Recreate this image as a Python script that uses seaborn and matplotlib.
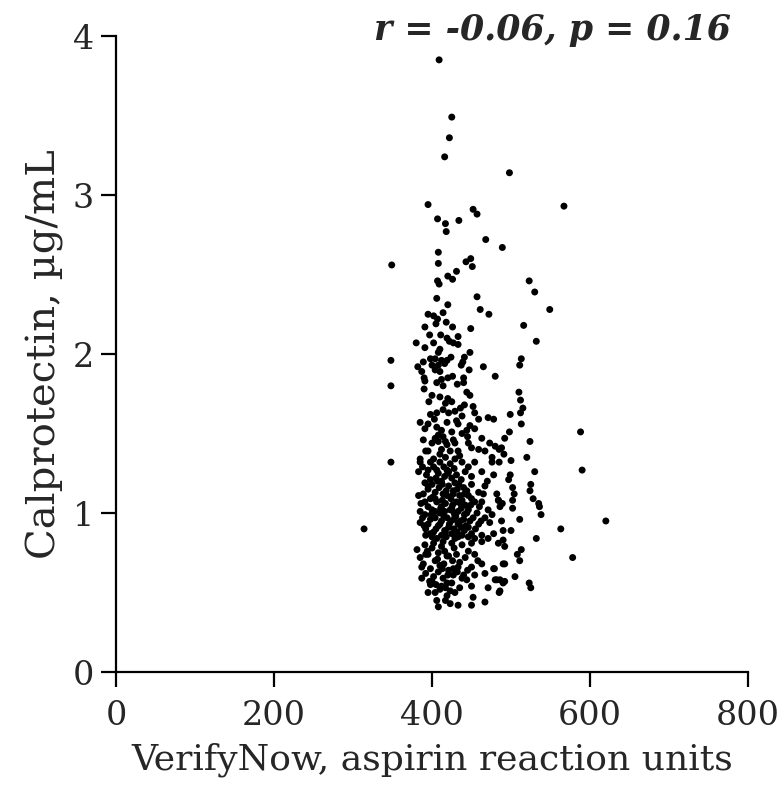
import numpy as np
import pandas as pd
import matplotlib
matplotlib.use("Agg")
import matplotlib.pyplot as plt
import seaborn as sns

# VerifyNow ARU (x) vs calprotectin ug/mL (y)
# upper tail (above ~2.3)
x_upper = [409, 425, 422, 416, 498, 395, 567, 407, 417, 452, 457, 434, 418, 468, 489,
           408, 349, 408, 443, 449, 451, 431, 420, 426, 407, 409, 523, 530, 549, 457, 406,
           516, 532, 513, 511]
y_upper = [3.85, 3.49, 3.36, 3.24, 3.14, 2.94, 2.93, 2.85, 2.82, 2.91, 2.88, 2.84, 2.77, 2.72, 2.67,
           2.64, 2.56, 2.57, 2.58, 2.60, 2.55, 2.52, 2.49, 2.47, 2.46, 2.44, 2.46, 2.39, 2.28, 2.36, 2.35,
           2.18, 2.08, 1.97, 1.93]

# band 2.3 - 1.84
x_band1 = [420, 461, 472, 395, 402, 414, 407, 405, 418, 391, 426, 449, 397, 411, 433, 419, 422,
           380, 402, 427, 433, 391, 410, 408, 448, 441, 348, 398, 404, 412, 419, 424, 389, 416,
           439, 382, 400, 408, 437, 447, 465, 387, 404, 410, 480, 390, 420, 426, 440, 412]
y_band1 = [2.31, 2.28, 2.25, 2.25, 2.24, 2.26, 2.22, 2.19, 2.20, 2.17, 2.17, 2.16, 2.12, 2.12, 2.11,
           2.10, 2.08, 2.07, 2.07, 2.07, 2.06, 2.04, 2.03, 2.01, 2.01, 1.98, 1.96, 1.97, 1.97, 1.96,
           1.96, 1.98, 1.95, 1.94, 1.95, 1.92, 1.93, 1.93, 1.93, 1.90, 1.92, 1.89, 1.90, 1.89, 1.86,
           1.85, 1.85, 1.86, 1.85, 1.84]

# band 1.84 - 1.33
x_band2 = [348, 391, 406, 414, 432, 440, 390, 400, 410, 444, 448, 417, 425, 441, 452, 414, 421,
           429, 438, 454, 398, 406, 385, 395, 419, 433, 459, 471, 478, 448, 391, 406, 412, 425,
           438, 408, 414, 404, 444, 454, 463, 389, 408, 400, 419, 429, 446, 450, 473, 467, 480,
           488, 395, 412, 423, 433, 459, 385, 402, 417, 429, 476,
           396, 420, 436, 403, 431, 417, 445, 392, 427, 410, 435]
y_band2 = [1.80, 1.83, 1.82, 1.80, 1.81, 1.82, 1.78, 1.74, 1.73, 1.76, 1.74, 1.69, 1.70, 1.68,
           1.67, 1.65, 1.63, 1.64, 1.61, 1.63, 1.62, 1.63, 1.57, 1.56, 1.57, 1.56, 1.59, 1.60, 1.59,
           1.55, 1.53, 1.54, 1.52, 1.51, 1.50, 1.49, 1.48, 1.47, 1.52, 1.53, 1.47, 1.46, 1.45, 1.44,
           1.43, 1.44, 1.44, 1.41, 1.44, 1.39, 1.42, 1.41, 1.39, 1.40, 1.39, 1.39, 1.40, 1.34, 1.34,
           1.35, 1.34, 1.35,
           1.70, 1.72, 1.66, 1.59, 1.58, 1.45, 1.48, 1.39, 1.46, 1.37, 1.36]

# dense core 1.33 - 0.83
x_core = [348, 385, 398, 410, 423, 438, 454, 476, 383, 395, 408, 419, 431, 442, 450, 463, 478,
          391, 400, 412, 421, 429, 440, 450, 459, 404, 414, 427, 435, 446, 467, 383, 398, 391,
          406, 417, 431, 442, 454, 463, 484, 400, 410, 423, 433, 446, 457, 471, 486, 391, 404,
          419, 429, 440, 452, 467, 476, 385, 395, 410, 421, 433, 446, 459, 473, 488, 398, 412,
          425, 438, 450, 463, 478, 406, 429, 454, 471,
          388, 402, 415, 428, 446, 405, 416, 425, 437, 395, 409, 418, 432, 444, 389, 401, 424,
          438, 450, 395, 412, 426, 437, 449, 404, 416, 428, 441, 388, 398, 412, 424, 436, 448,
          392, 405, 416, 428, 441, 455, 400, 418, 433, 446, 392, 462, 465, 470, 460, 385,
          393, 407, 420, 434, 413, 398, 427, 441, 404, 419, 386, 436, 411, 425, 399, 415, 430,
          444, 390, 408, 422, 437, 402, 417, 432, 395, 413, 428, 443, 406, 421]
y_core = [1.32, 1.32, 1.32, 1.32, 1.31, 1.32, 1.32, 1.32, 1.26, 1.27, 1.25, 1.27, 1.24, 1.26,
          1.23, 1.26, 1.24, 1.19, 1.18, 1.20, 1.17, 1.19, 1.16, 1.18, 1.13, 1.13, 1.12, 1.12, 1.11,
          1.11, 1.17, 1.11, 1.09, 1.07, 1.07, 1.06, 1.07, 1.05, 1.07, 1.07, 1.08, 1.02, 1.00, 1.02,
          1.01, 1.02, 1.00, 1.02, 1.04, 0.99, 0.97, 0.97, 0.98, 0.96, 0.97, 0.97, 0.99, 0.94, 0.93,
          0.93, 0.91, 0.93, 0.91, 0.93, 0.94, 0.95, 0.87, 0.86, 0.87, 0.86, 0.87, 0.86, 0.87, 0.84,
          0.84, 0.84, 0.84,
          1.29, 1.29, 1.29, 1.28, 1.29, 1.22, 1.23, 1.22, 1.21, 1.15, 1.16, 1.14, 1.15, 1.14, 1.12,
          1.10, 1.09, 1.08, 1.09, 1.04, 1.04, 1.05, 1.03, 1.05, 1.01, 1.01, 1.00, 0.99, 0.97, 0.96,
          0.95, 0.95, 0.95, 0.95, 0.90, 0.90, 0.89, 0.90, 0.89, 0.90, 0.85, 0.85, 0.85, 0.85, 0.86,
          0.95, 1.12, 1.20, 1.04, 1.01,
          1.24, 1.20, 1.25, 1.18, 1.18, 1.21, 1.14, 1.12, 1.09, 1.11, 1.06, 1.06, 1.03, 1.03, 0.99,
          0.98, 0.98, 1.00, 0.92, 0.92, 0.93, 0.91, 0.88, 0.88, 0.88, 1.17, 1.08, 0.96, 0.92, 1.27,
          1.26]

# lower band 0.83 - 0.40
x_low = [381, 391, 402, 412, 425, 438, 450, 463, 395, 408, 419, 431, 446, 454, 490, 387, 398,
         410, 421, 433, 450, 463, 478, 387, 402, 414, 427, 438, 454, 467, 482, 490, 398, 412,
         425, 435, 450, 471, 404, 419, 429, 395, 486, 406, 417, 423, 433, 450, 467, 452, 408,
         385, 400, 416, 428, 442, 404, 415, 426, 392, 408, 420, 432, 445, 397, 419, 444, 410,
         389, 458, 423,
         394, 407, 421, 435, 413, 400, 427, 440, 405, 417, 392, 414]
y_low = [0.77, 0.80, 0.81, 0.79, 0.81, 0.80, 0.81, 0.82, 0.74, 0.75, 0.73, 0.74, 0.76, 0.74,
         0.68, 0.66, 0.65, 0.67, 0.64, 0.66, 0.66, 0.68, 0.65, 0.59, 0.60, 0.59, 0.61, 0.59, 0.61,
         0.62, 0.58, 0.56, 0.55, 0.54, 0.56, 0.53, 0.54, 0.53, 0.50, 0.48, 0.50, 0.50, 0.51, 0.45,
         0.45, 0.43, 0.42, 0.42, 0.44, 0.47, 0.41,
         0.72, 0.78, 0.76, 0.78, 0.72, 0.70, 0.68, 0.70, 0.62, 0.63, 0.61, 0.63, 0.64, 0.57, 0.56,
         0.58, 0.52, 0.68, 0.70, 0.51,
         0.76, 0.71, 0.73, 0.69, 0.65, 0.57, 0.65, 0.61, 0.55, 0.53, 0.74, 0.82]

# right-hand scatter and far outliers
x_right = [510, 512, 515, 512, 513, 499, 498, 492, 524, 588, 485, 491, 485, 500, 520, 530, 590,
           499, 497, 525, 524, 502, 504, 482, 484, 489, 502, 528, 535, 536, 538, 502, 511, 490,
           500, 620, 563, 532, 484, 490, 492, 513, 508, 511, 578, 492, 479, 505, 480, 486, 492,
           523, 525, 485, 314]
y_right = [1.76, 1.71, 1.66, 1.63, 1.56, 1.62, 1.51, 1.47, 1.45, 1.51, 1.40, 1.37, 1.32, 1.33,
           1.35, 1.26, 1.27, 1.24, 1.21, 1.18, 1.14, 1.16, 1.12, 1.12, 1.08, 1.06, 1.08, 1.09, 1.06,
           1.04, 0.99, 1.03, 0.96, 0.89, 0.89, 0.95, 0.90, 0.84, 0.81, 0.83, 0.79, 0.77, 0.74, 0.70,
           0.72, 0.68, 0.65, 0.60, 0.58, 0.58, 0.57, 0.56, 0.53, 0.50, 0.90]

df = pd.DataFrame({
    "aru": x_upper + x_band1 + x_band2 + x_core + x_low + x_right,
    "calpro": y_upper + y_band1 + y_band2 + y_core + y_low + y_right,
})

sns.set_style("ticks")
plt.rcParams["font.family"] = ["DejaVu Serif"]

fig = plt.figure(figsize=(7.81, 7.95), dpi=100)
ax = fig.add_axes([0.1485, 0.1547, 0.8093, 0.8000])

sns.scatterplot(data=df, x="aru", y="calpro", ax=ax, color="black", s=25,
                linewidth=0, edgecolor="none", clip_on=False)

ax.set_xlim(0, 800)
ax.set_ylim(0, 4)
ax.set_xticks([0, 200, 400, 600, 800])
ax.set_yticks([0, 1, 2, 3, 4])
sns.despine(ax=ax)
for side in ["left", "bottom"]:
    ax.spines[side].set_linewidth(1.6)
    ax.spines[side].set_color("black")
ax.tick_params(axis="both", direction="out", length=11, width=1.6, color="black",
               labelsize=24)
ax.tick_params(axis="x", pad=9)
ax.tick_params(axis="y", pad=5)

ax.set_xlabel("VerifyNow, aspirin reaction units", fontsize=26, labelpad=8)
ax.set_ylabel("Calprotectin, µg/mL", fontsize=29, labelpad=6)

ax.text(0.973, 1.01, "r = -0.06, p = 0.16", transform=ax.transAxes, ha="right", va="center",
        fontsize=25, fontweight="bold", fontstyle="italic")

fig.savefig("out.png", dpi=100)
